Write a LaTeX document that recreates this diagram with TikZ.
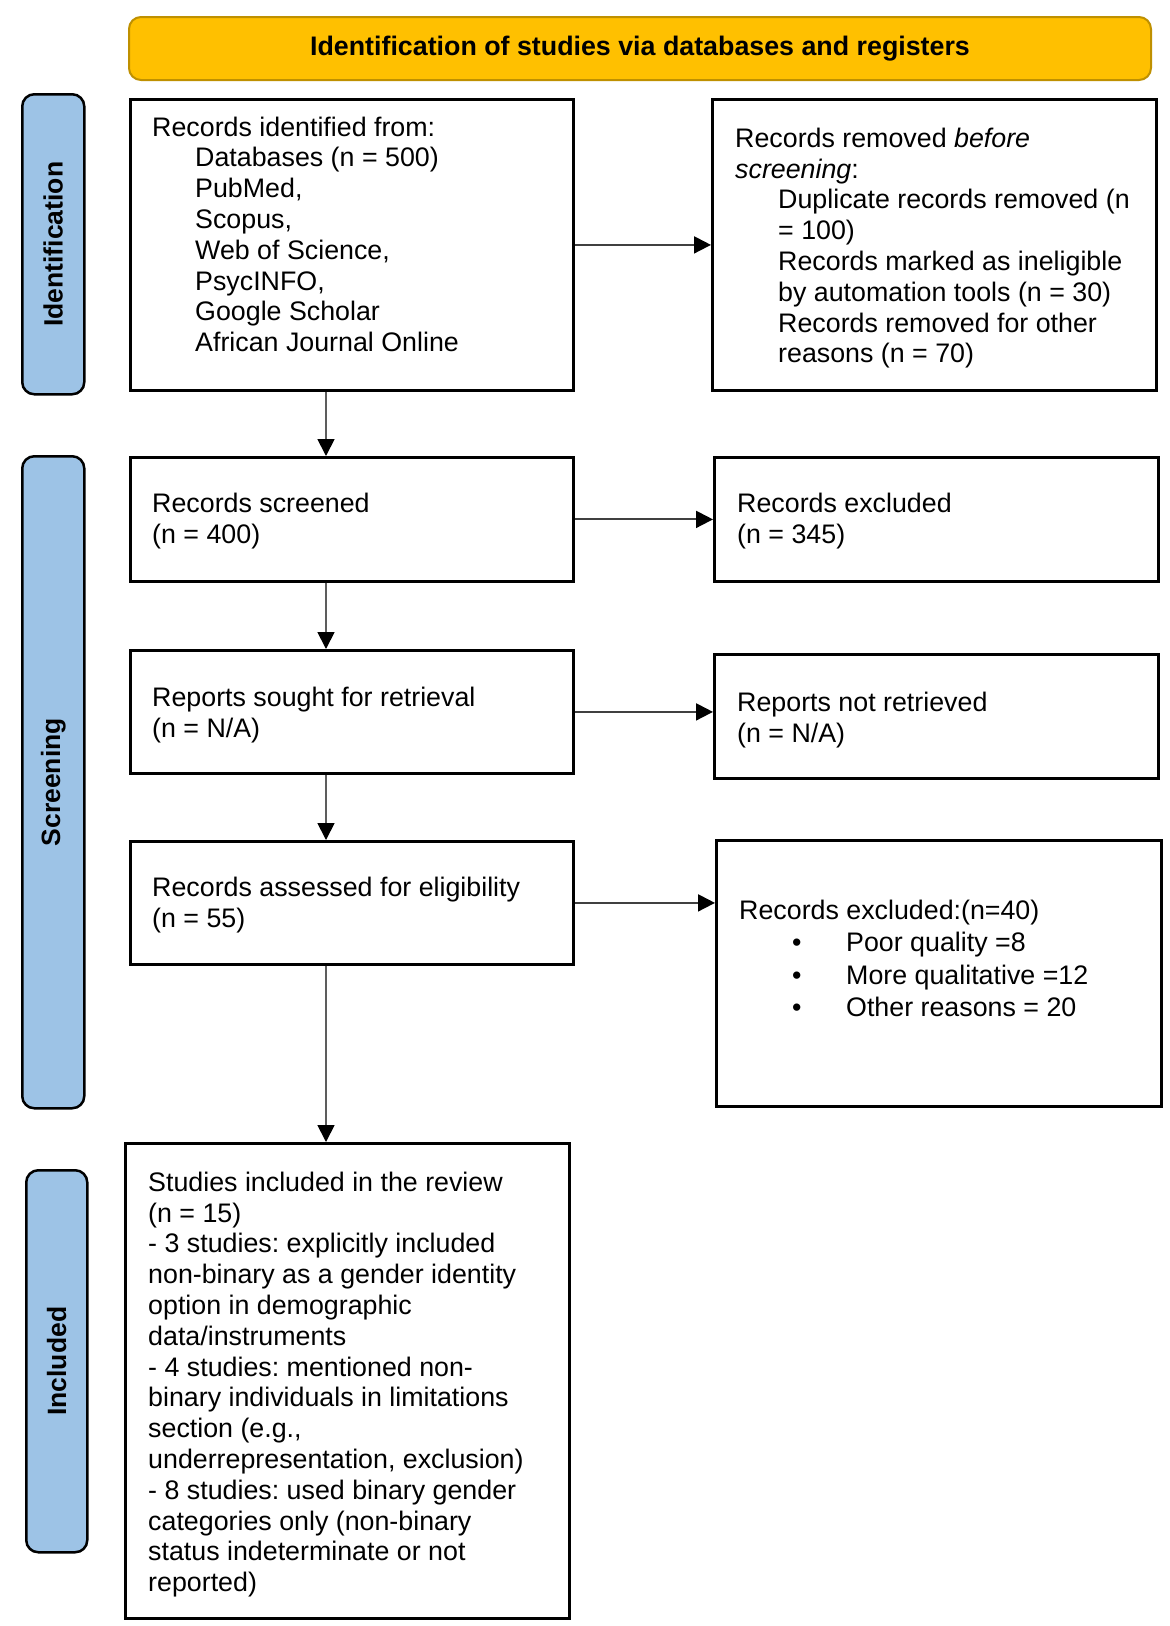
\documentclass[tikz,border=0pt]{standalone}
\usepackage{fontspec}
\setmainfont{Liberation Sans}
\usetikzlibrary{arrows.meta}
\definecolor{banfill}{HTML}{FFC000}
\definecolor{banedge}{HTML}{BF9000}
\definecolor{sidefill}{HTML}{9DC3E6}
\definecolor{arrgray}{HTML}{404040}
\newcommand\bodyfs{\fontsize{26.8}{30.8}\selectfont}
\newcommand\bulletfs{\fontsize{26.8}{32.5}\selectfont}
\frenchspacing
\begin{document}
\frenchspacing
\begin{tikzpicture}[x=1pt,y=-1pt,
  box/.style={draw=black, line width=2.8pt, fill=white, anchor=north west, inner sep=0pt},
  txt/.style={anchor=north west, inner sep=0pt, align=left, font=\bodyfs\frenchspacing},
  side/.style={draw=black, line width=2.5pt, fill=sidefill, rounded corners=12pt, anchor=north west, inner sep=0pt},
  sidelbl/.style={rotate=90, inner sep=0pt, font=\bfseries\fontsize{26.5}{30}\selectfont},
  banner/.style={draw=banedge, line width=2pt, fill=banfill, rounded corners=12pt, inner sep=0pt, font=\bfseries\bodyfs},
  arrh/.style={draw=arrgray, line width=2pt, -{Triangle[length=17pt,width=17pt,color=black]}},
  arrv/.style={draw=arrgray!85, line width=1.8pt, -{Triangle[length=17pt,width=17pt,color=black]}},
]
\useasboundingbox[fill=white] (0,0) rectangle (1170,1626);

% header banner
\node[banner, minimum width=1022pt, minimum height=63pt] (hdr) at (640,48.5) {\raisebox{-3pt}{Identification of studies via databases and registers}};

% side phase boxes
\node[side, minimum width=62pt, minimum height=300pt] (s1) at (21,93) {};
\node[side, minimum width=62pt, minimum height=652pt] (s2) at (21,455) {};
\node[side, minimum width=61pt, minimum height=382pt] (s3) at (25,1169) {};
\node[sidelbl] (l1) at (s1.center) {Identification};
\node[sidelbl] (l2) at (s2.center) {Screening};
\node[sidelbl] (l3) at (s3.center) {Included};

% boxes
\node[box, minimum width=443pt, minimum height=291pt] (b1) at (129,98) {};
\node[box, minimum width=444pt, minimum height=291pt] (b2) at (711,98) {};
\node[box, minimum width=443pt, minimum height=124pt] (b3) at (129,456) {};
\node[box, minimum width=444pt, minimum height=124pt] (b4) at (713,456) {};
\node[box, minimum width=443pt, minimum height=123pt] (b5) at (129,649) {};
\node[box, minimum width=444pt, minimum height=124pt] (b6) at (713,653) {};
\node[box, minimum width=443pt, minimum height=123pt] (b7) at (129,840) {};
\node[box, minimum width=445pt, minimum height=266pt] (b8) at (715,839) {};
\node[box, minimum width=444pt, minimum height=475pt] (b9) at (124,1142) {};

% texts
\node[txt] (t1) at (152,114.4) {\strut Records identified from:\\
\hspace*{43pt}Databases (n = 500)\\
\hspace*{43pt}PubMed,\\
\hspace*{43pt}Scopus,\\
\hspace*{43pt}Web of Science,\\
\hspace*{43pt}PsycINFO,\\
\hspace*{43pt}Google Scholar\\
\hspace*{43pt}African Journal Online};

\node[txt] (t2) at (735,125.6) {\strut Records removed \textit{before}\\
\textit{screening}:\\
\hspace*{43pt}Duplicate records removed (n\\
\hspace*{43pt}= 100)\\
\hspace*{43pt}Records marked as ineligible\\
\hspace*{43pt}by automation tools (n = 30)\\
\hspace*{43pt}Records removed for other\\
\hspace*{43pt}reasons (n = 70)};

\node[txt] (t3) at (152,490.5) {\strut Records screened\\(n = 400)};
\node[txt] (t4) at (737,490.5) {\strut Records excluded\\(n = 345)};
\node[txt] (t5) at (152,684.5) {\strut Reports sought for retrieval\\(n = N/A)};
\node[txt] (t6) at (737,689.5) {\strut Reports not retrieved\\(n = N/A)};
\node[txt] (t7) at (152,874.5) {\strut Records assessed for eligibility\\(n = 55)};

\node[txt, font=\bulletfs\frenchspacing] (t8) at (739,896.5) {\strut Records excluded:(n=40)\\
\hspace*{53pt}\makebox[54pt][l]{•}Poor quality =8\\
\hspace*{53pt}\makebox[54pt][l]{•}More qualitative =12\\
\hspace*{53pt}\makebox[54pt][l]{•}Other reasons = 20};

\node[txt] (t9) at (148,1169.5) {\strut Studies included in the review\\
(n = 15)\\
- 3 studies: explicitly included\\
non-binary as a gender identity\\
option in demographic\\
data/instruments\\
- 4 studies: mentioned non-\\
binary individuals in limitations\\
section (e.g.,\\
underrepresentation, exclusion)\\
- 8 studies: used binary gender\\
categories only (non-binary\\
status indeterminate or not\\
reported)};

% connectors
\coordinate (col) at (326,0);
\draw[arrv] (b1.south -| col) -- (b3.north -| col);
\draw[arrv] (b3.south -| col) -- (b5.north -| col);
\draw[arrv] (b5.south -| col) -- (b7.north -| col);
\draw[arrv] (b7.south -| col) -- (b9.north -| col);

\draw[arrh] (b1.east) -- (b1.east -| b2.west);
\draw[arrh] (b3.east) -- (b3.east -| b4.west);
\draw[arrh] (b5.east) -- (b5.east -| b6.west);
\draw[arrh] (b7.east) -- (b7.east -| b8.west);
\end{tikzpicture}
\end{document}
